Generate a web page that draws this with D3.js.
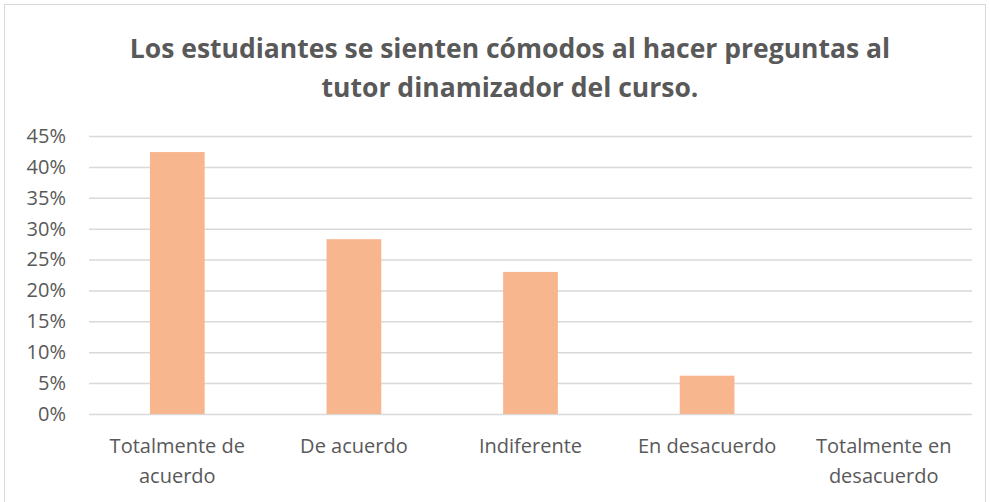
<!DOCTYPE html>
<html>
<head>
<meta charset="utf-8">
<script src="https://cdn.jsdelivr.net/npm/d3@7"></script>
<style>
  body { margin: 0; background: #fff; }
  text { font-family: "Open Sans", "Liberation Sans", sans-serif; fill: #595959; }
</style>
</head>
<body>
<div id="chart"></div>
<script>
"use strict";

const categories = [["Totalmente de", "acuerdo"], ["De acuerdo"], ["Indiferente"], ["En desacuerdo"], ["Totalmente en", "desacuerdo"]];
const values = [0.424, 0.283, 0.23, 0.062, 0];
const yTicks = [0, 0.05, 0.10, 0.15, 0.20, 0.25, 0.30, 0.35, 0.40, 0.45];
const titleLines = ["Los estudiantes se sienten cómodos al hacer preguntas al", "tutor dinamizador del curso."];

const msm = {
    width: 990,
    height: 502,
    left: 89,
    right: 972,
    top: 136,
    bottom: 414
}

let svg = d3.select("#chart")
    .append("svg")
    .attr("width", msm.width)
    .attr("height", msm.height);

// chart frame
svg.append("rect")
    .attr("x", 4.5)
    .attr("y", 4.5)
    .attr("width", 981)
    .attr("height", 505)
    .attr("fill", "none")
    .attr("stroke", "#d9d9d9")
    .attr("stroke-width", 1);

// title
svg.selectAll(".title")
    .data(titleLines)
    .enter()
    .append("text")
    .attr("class", "title")
    .attr("x", 510)
    .attr("y", (d, i) => 58 + i * 39)
    .attr("text-anchor", "middle")
    .style("font-size", "26.5px")
    .style("font-weight", "bold")
    .text(d => d);

let xScale = d3.scaleBand()
    .domain(d3.range(categories.length))
    .range([msm.left, msm.right])
    .paddingInner(0.69)
    .paddingOuter(0.345);

let yScale = d3.scaleLinear()
    .domain([0, 0.45])
    .range([msm.bottom, msm.top]);

// gridlines + y labels
let yAxis = d3.axisLeft(yScale)
    .tickValues(yTicks)
    .tickSize(-(msm.right - msm.left))
    .tickPadding(23)
    .tickFormat(d3.format(".0%"));

let gy = svg.append("g")
    .attr("transform", "translate(" + msm.left + ",0)")
    .call(yAxis);
gy.select(".domain").remove();
gy.selectAll("line")
    .attr("stroke", "#d9d9d9")
    .attr("stroke-width", 1.5);
gy.selectAll("text")
    .style("font-size", "20px")
    .attr("fill", "#595959");

// bars
svg.selectAll(".bar")
    .data(values)
    .enter()
    .append("rect")
    .attr("class", "bar")
    .attr("x", (d, i) => xScale(i))
    .attr("y", d => yScale(d))
    .attr("width", xScale.bandwidth())
    .attr("height", d => yScale(0) - yScale(d))
    .attr("fill", "#f8b68f");

// x labels
let labels = svg.selectAll(".xlabel")
    .data(categories)
    .enter()
    .append("text")
    .attr("class", "xlabel")
    .attr("text-anchor", "middle")
    .attr("transform", (d, i) => "translate(" + (xScale(i) + xScale.bandwidth() / 2) + ",453)")
    .style("font-size", "20px");

labels.selectAll("tspan")
    .data(d => d)
    .enter()
    .append("tspan")
    .attr("x", 0)
    .attr("y", (d, i) => i * 30)
    .text(d => d);
</script>
</body>
</html>
